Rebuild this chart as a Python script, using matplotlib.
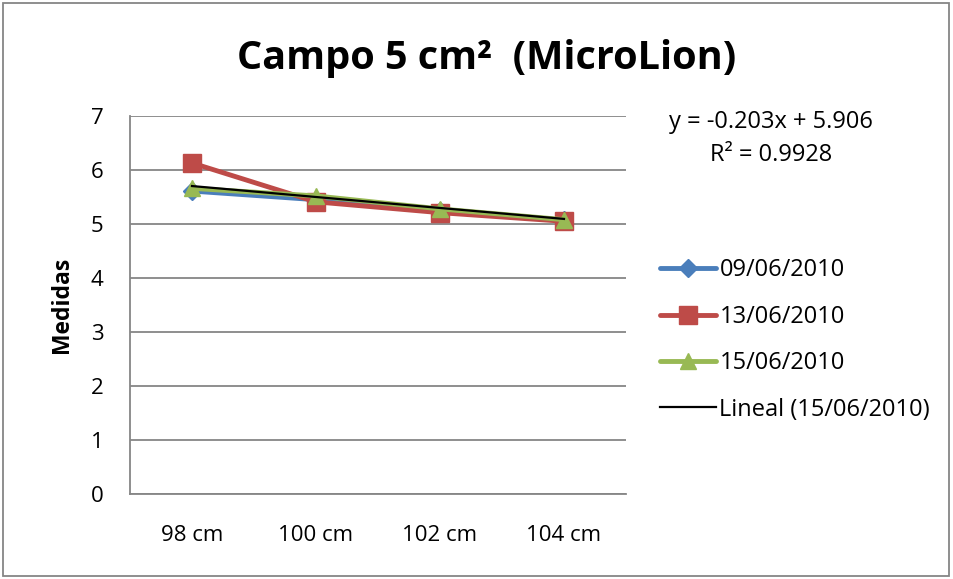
import matplotlib
matplotlib.use("Agg")
import matplotlib.pyplot as plt
from matplotlib.patches import Rectangle

categories = ["98 cm", "100 cm", "102 cm", "104 cm"]
s_0906 = [5.61, 5.45, 5.25, 5.07]
s_1306 = [6.13, 5.41, 5.21, 5.05]
s_1506 = [5.66, 5.52, 5.28, 5.08]
labels = ["09/06/2010", "13/06/2010", "15/06/2010"]
trend_slope = -0.203
trend_intercept = 5.906
r2_text = "0.9928"

plt.rcParams['font.family'] = ['Open Sans', 'DejaVu Sans']

fig = plt.figure(figsize=(9.54, 5.79), dpi=100)
W, H = 954, 579
ax = fig.add_axes([130 / W, 1 - 494 / H, (626 - 130) / W, (494 - 116) / H])

x = list(range(len(categories)))
ax.plot(x, s_0906, color="#4A7EBB", lw=3.5, marker="D", ms=9, label=labels[0],
        solid_capstyle="round", zorder=3)
ax.plot(x, s_1306, color="#BE4B48", lw=3.5, marker="s", ms=13, label=labels[1],
        solid_capstyle="round", zorder=4)
ax.plot(x, s_1506, color="#98B954", lw=3.5, marker="^", ms=12, label=labels[2],
        solid_capstyle="round", zorder=5)
tx = [xi + 1 for xi in x]
ty = [trend_slope * t + trend_intercept for t in tx]
ax.plot(x, ty, color="black", lw=1.6, label="Lineal (15/06/2010)", zorder=6)

ax.set_xlim(-0.5, 3.5)
ax.set_ylim(0, 7)
ax.set_yticks(range(0, 8))
ax.set_xticks(x)
ax.set_xticklabels(categories)
ax.tick_params(length=0, labelsize=16)
ax.tick_params(axis='y', pad=19)
ax.tick_params(axis='x', pad=22)
ax.grid(axis='y', color="#868686", lw=1.3)
ax.set_axisbelow(True)
for side in ["top", "right"]:
    ax.spines[side].set_visible(False)
for side in ["left", "bottom"]:
    ax.spines[side].set_color("#868686")
    ax.spines[side].set_linewidth(1.3)

ax.set_ylabel("Medidas", fontsize=16.5, fontweight="bold", labelpad=12)

fig.text(487 / W, 1 - 58 / H, "Campo 5 cm²  (MicroLion)", ha="center", va="center",
         fontsize=28.5, fontweight="bold")

fig.text(771 / W, 1 - 122 / H, "y = -0.203x + 5.906", ha="center", va="center", fontsize=17)
fig.text(771 / W, 1 - 155 / H, "R² = " + r2_text, ha="center", va="center", fontsize=17)

leg = fig.legend(loc="upper left", bbox_to_anchor=(651 / W, 1 - 249 / H), frameon=False,
                 fontsize=17, handlelength=2.35, handletextpad=0.15, labelspacing=0.95,
                 borderaxespad=0)

fig.patches.append(Rectangle((3 / W, 3 / H), 946 / W, 573 / H, transform=fig.transFigure,
                             fill=False, edgecolor="#868686", lw=1.3))

fig.savefig("out.png", dpi=100)
